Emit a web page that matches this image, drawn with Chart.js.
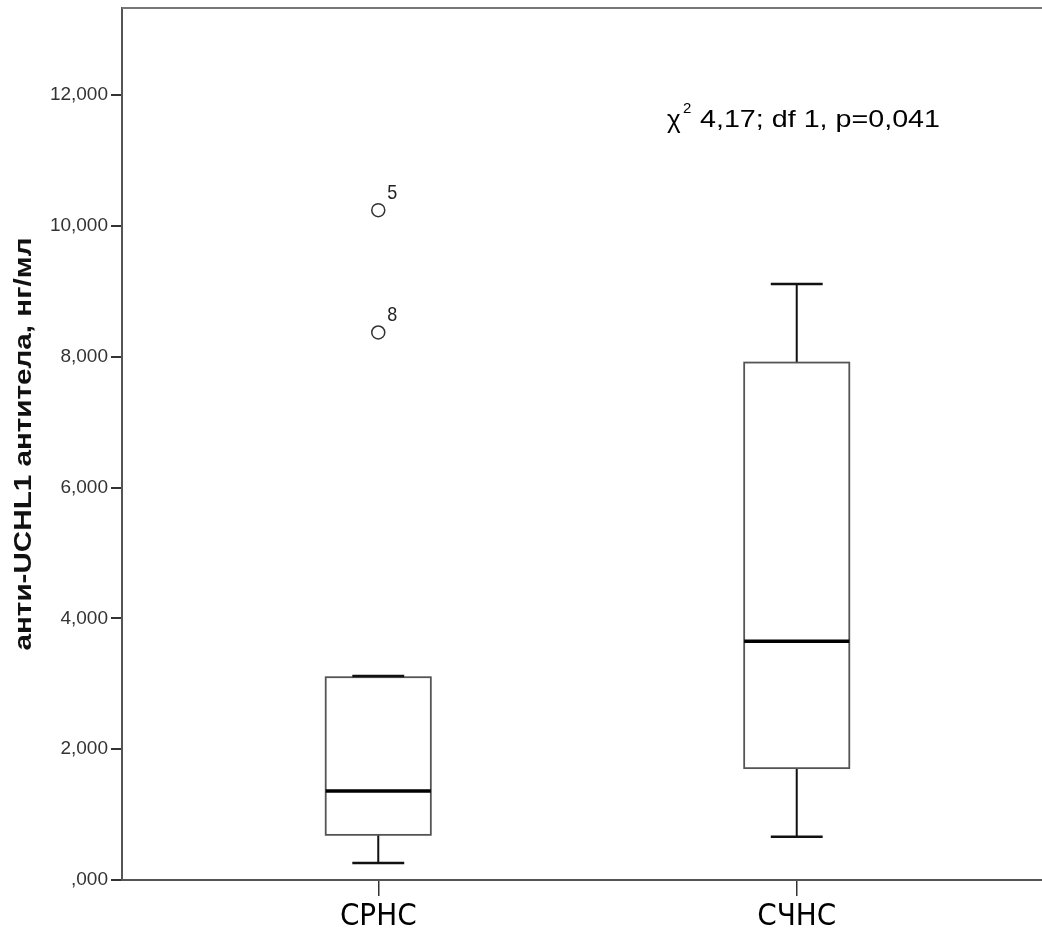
<!DOCTYPE html>
<html>
<head>
<meta charset="utf-8">
<script src="https://cdn.jsdelivr.net/npm/chart.js@4"></script>
<style>
html, body { margin: 0; padding: 0; background: #fff; overflow: hidden; }
#chart { display: block; }
</style>
</head>
<body>
<canvas id="chart" width="1051" height="934"></canvas>
<script>
// groups and their box plot summaries
const groups = ['СРНС', 'СЧНС']
const positions = [1, 2]
const whiskerLow = [260, 660]
const q1 = [690, 1710]
const median = [1360, 3650]
const q3 = [3100, 7910]
const whiskerHigh = [3120, 9110]
const outlierValues = [10240, 8370]
const outlierGroup = [1, 1]
const outlierIds = ['5', '8']
const yTicks = [0, 2000, 4000, 6000, 8000, 10000, 12000]
const yTitle = 'анти-UCHL1 антитела, нг/мл'
const statText = '4,17; df 1, p=0,041'

const boxHalf = 0.1256
const capHalf = 0.062

function fitText(ctx, text, x, y, width) {
  let w = ctx.measureText(text).width
  ctx.save()
  ctx.translate(x, y)
  ctx.scale(width / w, 1)
  ctx.fillText(text, 0, 0)
  ctx.restore()
}

const boxPlugin = {
  id: 'boxes',
  beforeDatasetsDraw(chart) {
    let ctx = chart.ctx
    let xs = chart.scales.x, ys = chart.scales.y
    for (let i = 0; i < groups.length; i++) {
      let xc = xs.getPixelForValue(positions[i])
      let xl = xs.getPixelForValue(positions[i] - boxHalf)
      let xr = xs.getPixelForValue(positions[i] + boxHalf)
      let cl = xs.getPixelForValue(positions[i] - capHalf)
      let cr = xs.getPixelForValue(positions[i] + capHalf)
      let yLo = ys.getPixelForValue(whiskerLow[i])
      let yQ1 = ys.getPixelForValue(q1[i])
      let yMed = ys.getPixelForValue(median[i])
      let yQ3 = ys.getPixelForValue(q3[i])
      let yHi = ys.getPixelForValue(whiskerHigh[i])
      ctx.save()
      // whiskers
      ctx.strokeStyle = '#111'
      ctx.lineWidth = 2
      ctx.beginPath()
      ctx.moveTo(xc, yQ1); ctx.lineTo(xc, yLo)
      ctx.moveTo(xc, yQ3); ctx.lineTo(xc, yHi)
      ctx.stroke()
      // box
      ctx.fillStyle = '#fff'
      ctx.fillRect(xl, yQ3, xr - xl, yQ1 - yQ3)
      ctx.strokeStyle = '#555'
      ctx.lineWidth = 1.8
      ctx.strokeRect(xl, yQ3, xr - xl, yQ1 - yQ3)
      // caps
      ctx.strokeStyle = '#111'
      ctx.lineWidth = 2.5
      ctx.beginPath()
      ctx.moveTo(cl, yLo); ctx.lineTo(cr, yLo)
      ctx.moveTo(cl, yHi); ctx.lineTo(cr, yHi)
      ctx.stroke()
      // median
      ctx.strokeStyle = '#000'
      ctx.lineWidth = 3.5
      ctx.beginPath()
      ctx.moveTo(xl, yMed); ctx.lineTo(xr, yMed)
      ctx.stroke()
      ctx.restore()
    }
  },
  afterDatasetsDraw(chart) {
    let ctx = chart.ctx
    let xs = chart.scales.x, ys = chart.scales.y
    let area = chart.chartArea
    ctx.save()
    // top frame line
    ctx.strokeStyle = '#777'
    ctx.lineWidth = 2
    ctx.beginPath()
    ctx.moveTo(area.left, area.top); ctx.lineTo(area.right, area.top)
    ctx.stroke()

    // outlier case numbers
    ctx.fillStyle = '#222'
    ctx.font = '21px "Liberation Sans", Arial'
    ctx.textBaseline = 'alphabetic'
    for (let i = 0; i < outlierValues.length; i++) {
      let px = xs.getPixelForValue(outlierGroup[i])
      let py = ys.getPixelForValue(outlierValues[i])
      fitText(ctx, outlierIds[i], px + 9, py - 11, 10)
    }

    // statistics text
    ctx.fillStyle = '#000'
    ctx.font = '26px "Liberation Sans", Arial'
    ctx.fillText('χ', 667, 128)
    ctx.font = '15px "Liberation Sans", Arial'
    ctx.fillText('2', 683, 113)
    ctx.font = '24px "Liberation Sans", Arial'
    fitText(ctx, statText, 700, 127, 240)

    // y axis title
    ctx.font = 'bold 23px "Liberation Sans", Arial'
    ctx.fillStyle = '#111'
    ctx.textAlign = 'center'
    ctx.textBaseline = 'middle'
    ctx.save()
    ctx.translate(25, 444)
    ctx.rotate(-Math.PI / 2)
    let w = ctx.measureText(yTitle).width
    ctx.scale(413 / w, 1)
    ctx.fillText(yTitle, 0, 0)
    ctx.restore()
    ctx.restore()
  }
}

let ctx = document.getElementById('chart').getContext('2d')
let chart = new Chart(ctx, {
  type: 'scatter',
  data: {
    datasets: [{
      label: 'outliers',
      data: outlierValues.map((v, i) => ({ x: outlierGroup[i], y: v })),
      pointRadius: 6.5,
      pointHoverRadius: 6.5,
      pointStyle: 'circle',
      borderColor: '#333',
      borderWidth: 1.5,
      backgroundColor: 'rgba(0,0,0,0)'
    }]
  },
  options: {
    responsive: false,
    animation: false,
    layout: { padding: { top: 7 } },
    plugins: { legend: { display: false }, tooltip: { enabled: false } },
    scales: {
      x: {
        type: 'linear',
        min: 0.3876,
        max: 2.5885,
        afterBuildTicks: s => { s.ticks = positions.map(v => ({ value: v })) },
        afterFit: s => { s.height = 54; s.paddingLeft = 0; s.paddingRight = 0 },
        ticks: {
          callback: v => groups[positions.indexOf(v)],
          font: { family: '"Liberation Sans Narrow", "DejaVu Sans Condensed", Arial', size: 31 },
          color: '#000',
          padding: 2,
          maxRotation: 0,
          autoSkip: false
        },
        grid: { drawOnChartArea: false, drawTicks: true, tickLength: 16, color: '#333', lineWidth: 1.5 },
        border: { display: true, color: '#555', width: 2 }
      },
      y: {
        type: 'linear',
        min: 0,
        max: 13330,
        afterBuildTicks: s => { s.ticks = yTicks.map(v => ({ value: v })) },
        afterFit: s => { s.width = 122; s.paddingTop = 0; s.paddingBottom = 0 },
        ticks: {
          callback: v => v == 0 ? ',000' : (v / 1000) + ',000',
          font: { family: '"Liberation Sans", Arial', size: 19 },
          color: '#333',
          padding: 3
        },
        grid: { drawOnChartArea: false, drawTicks: true, tickLength: 11, color: '#333', lineWidth: 2 },
        border: { display: true, color: '#555', width: 2 }
      }
    }
  },
  plugins: [boxPlugin]
})
</script>
</body>
</html>
